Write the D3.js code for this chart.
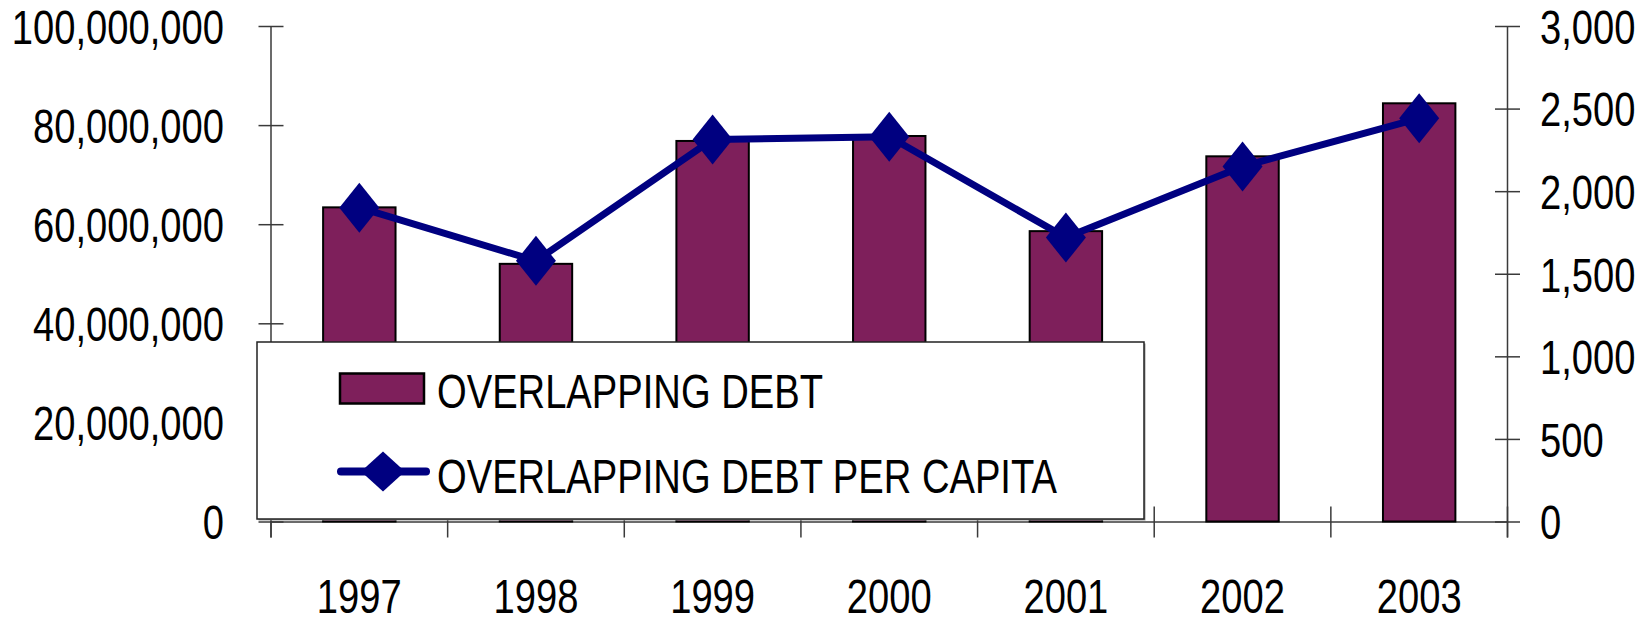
<!DOCTYPE html>
<html>
<head>
<meta charset="utf-8">
<script src="https://cdn.jsdelivr.net/npm/d3@7"></script>
<style>
  html, body { margin: 0; padding: 0; background: #fff; }
  svg { display: block; }
  text { font-family: "Liberation Sans", Arial, sans-serif; fill: #000; }
</style>
</head>
<body>
<svg id="chart" width="1652" height="622"></svg>
<script>
// Overlapping debt totals (bars, left axis) and per-capita figures (line, right axis)
const years = ["1997", "1998", "1999", "2000", "2001", "2002", "2003"];
const overlappingDebt = [63400000, 52000000, 76800000, 77800000, 58600000, 73700000, 84400000];
const debtPerCapita = [1900, 1578, 2313, 2329, 1719, 2150, 2441];
const leftTicks = [0, 20000000, 40000000, 60000000, 80000000, 100000000];
const rightTicks = [0, 500, 1000, 1500, 2000, 2500, 3000];
const seriesNames = ["OVERLAPPING DEBT", "OVERLAPPING DEBT PER CAPITA"];

const barColor = "#7E1F5B";
const lineColor = "#000080";
const axisColor = "#3a3a3a";
const fontSize = "48px";
const narrow = 0.795;   // horizontal squeeze giving a narrow face

const svg = d3.select("#chart");
const plot = { left: 271, right: 1507.5, top: 26, bottom: 521.5 };

const x = d3.scaleBand().domain(years).range([plot.left, plot.right]).padding(0);
const yL = d3.scaleLinear().domain([0, 100000000]).range([plot.bottom, plot.top]);
const yR = d3.scaleLinear().domain([0, 3000]).range([plot.bottom, plot.top]);
const fmt = d3.format(",");
const barW = x.bandwidth() * 0.41;

const squeeze = (sel, tx, ty) => sel
  .attr("x", 0).attr("y", 0)
  .attr("transform", `translate(${tx},${ty}) scale(${narrow},1)`)
  .style("font-size", fontSize).attr("fill", "#000");

// Left value axis
const gL = svg.append("g").attr("transform", `translate(${plot.left},0)`)
  .call(d3.axisLeft(yL).tickValues(leftTicks).tickFormat(fmt).tickSizeOuter(0));
gL.select(".domain").remove();
gL.append("line").attr("x1", 0).attr("x2", 0).attr("y1", plot.top).attr("y2", plot.bottom + 16)
  .attr("stroke", axisColor).attr("stroke-width", 1.5);
gL.selectAll(".tick line").attr("x1", -12.5).attr("x2", 12.5).attr("stroke", axisColor).attr("stroke-width", 1.5);
squeeze(gL.selectAll(".tick text"), -47, 0).attr("dy", "0.36em");

// Right value axis
const gR = svg.append("g").attr("transform", `translate(${plot.right},0)`)
  .call(d3.axisRight(yR).tickValues(rightTicks).tickFormat(fmt).tickSizeOuter(0));
gR.select(".domain").remove();
gR.append("line").attr("x1", 0).attr("x2", 0).attr("y1", plot.top).attr("y2", plot.bottom + 16)
  .attr("stroke", axisColor).attr("stroke-width", 1.5);
gR.selectAll(".tick line").attr("x1", -12.5).attr("x2", 12.5).attr("stroke", axisColor).attr("stroke-width", 1.5);
squeeze(gR.selectAll(".tick text"), 32.5, 0).attr("dy", "0.36em");

// Category axis: baseline, boundary ticks, year labels
const gX = svg.append("g").attr("transform", `translate(0,${plot.bottom})`)
  .call(d3.axisBottom(x).tickSize(0).tickSizeOuter(0));
gX.select(".domain").attr("stroke", axisColor).attr("stroke-width", 1.5);
squeeze(gX.selectAll(".tick text"), 0, 91).attr("dy", 0);

const bounds = years.map(d => x(d)).concat([x(years[years.length - 1]) + x.step()]);
svg.append("g").selectAll("line").data(bounds).join("line")
  .attr("x1", d => d).attr("x2", d => d)
  .attr("y1", plot.bottom - 15).attr("y2", plot.bottom + 16)
  .attr("stroke", axisColor).attr("stroke-width", 1.5);

// Bars
svg.append("g").selectAll("rect").data(years).join("rect")
  .attr("x", d => x(d) + (x.bandwidth() - barW) / 2)
  .attr("width", barW)
  .attr("y", (d, i) => yL(overlappingDebt[i]))
  .attr("height", (d, i) => plot.bottom - yL(overlappingDebt[i]))
  .attr("fill", barColor).attr("stroke", "#000").attr("stroke-width", 2);

// Per-capita line with diamond markers
const cx = d => x(d) + x.bandwidth() / 2;
const line = d3.line().x((d, i) => cx(years[i])).y(d => yR(d));
svg.append("path").datum(debtPerCapita).attr("d", line)
  .attr("fill", "none").attr("stroke", lineColor).attr("stroke-width", 7)
  .attr("stroke-linejoin", "round");

const diamond = (px, py, hw, hh) => `M${px},${py - hh}L${px + hw},${py}L${px},${py + hh}L${px - hw},${py}Z`;
svg.append("g").selectAll("path").data(debtPerCapita).join("path")
  .attr("d", (d, i) => diamond(cx(years[i]), yR(d), 20, 25))
  .attr("fill", lineColor);

// Legend
const lg = svg.append("g");
lg.append("rect").attr("x", 258.5).attr("y", 343.5).attr("width", 887).attr("height", 177)
  .attr("fill", "#999");
lg.append("rect").attr("x", 257).attr("y", 342).attr("width", 887).attr("height", 177)
  .attr("fill", "#fff").attr("stroke", "#222").attr("stroke-width", 1.5);

lg.append("rect").attr("x", 340).attr("y", 373.5).attr("width", 84).attr("height", 30)
  .attr("fill", barColor).attr("stroke", "#000").attr("stroke-width", 2.5);
squeeze(lg.append("text").text(seriesNames[0]), 437, 408);

lg.append("line").attr("x1", 341).attr("x2", 426).attr("y1", 471.5).attr("y2", 471.5)
  .attr("stroke", lineColor).attr("stroke-width", 8).attr("stroke-linecap", "round");
lg.append("path").attr("d", diamond(383, 471.5, 22, 20)).attr("fill", lineColor);
squeeze(lg.append("text").text(seriesNames[1]), 437, 493);
</script>
</body>
</html>
